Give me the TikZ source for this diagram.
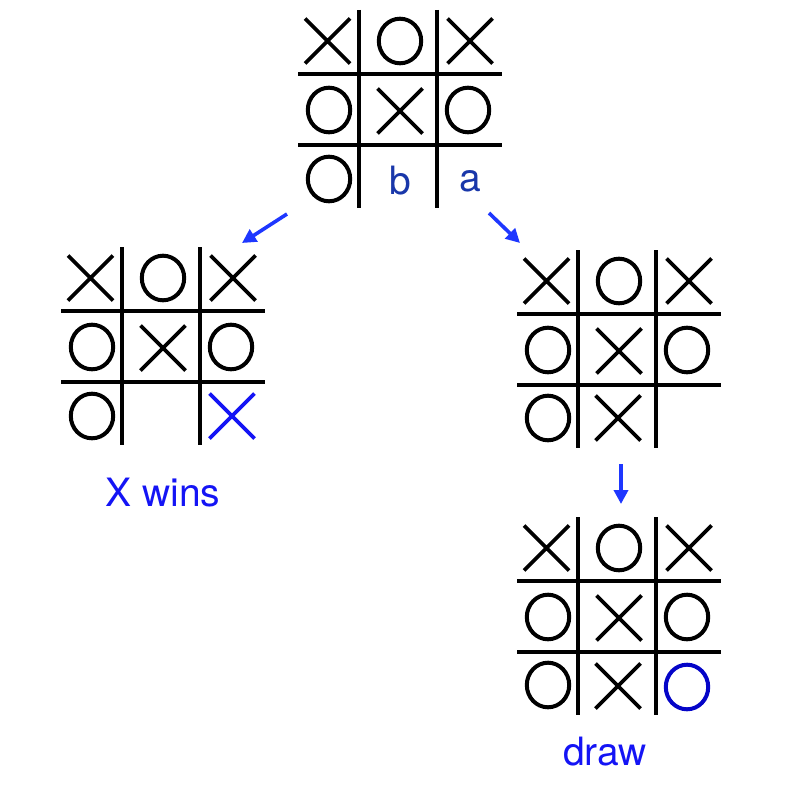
\documentclass[tikz,border=0pt]{standalone}
\usepackage{fontspec}
\setmainfont{TeX Gyre Heros}
\usetikzlibrary{arrows.meta}
\definecolor{labelblue}{RGB}{25,55,170}
\definecolor{brightblue}{RGB}{20,20,245}
\definecolor{arrowblue}{RGB}{30,55,255}
\definecolor{oblue}{RGB}{5,5,200}
\tikzset{
  gridline/.style={line width=4pt, black},
  mark line/.style={line width=3.8pt, line cap=butt},
  xmark/.pic={\draw[mark line] (-22.5,-22.5) -- (22.5,22.5) (-22.5,22.5) -- (22.5,-22.5);},
  omark/.pic={\draw[mark line, line width=4pt] (0,0) ellipse [x radius=21.2, y radius=22.3];},
  boardgrid/.pic={
    \draw[gridline] (60.5,0) -- (60.5,198) (139,0) -- (139,198);
    \draw[gridline] (0,63.5) -- (204,63.5) (0,134.5) -- (204,134.5);
  },
  movearrow/.style={line width=3.6pt, arrowblue, -{Triangle[length=14pt,width=14pt]}},
  lbl/.style={font=\fontsize{39}{41}\selectfont, inner sep=0pt},
}
\begin{document}
\begin{tikzpicture}[x=1pt, y=-1pt]
\useasboundingbox (0,0) rectangle (800,800);
\fill[white] (0,0) rectangle (800,800);

% ---------- top board ----------
\begin{scope}[shift={(298,10)}]
  \pic {boardgrid};
  \pic at (29.5,31) {xmark};
  \pic at (102,31) {omark};
  \pic at (172,31) {xmark};
  \pic at (31,100) {omark};
  \pic at (102,101) {xmark};
  \pic at (170,100) {omark};
  \pic at (31,169) {omark};
  \node[lbl, text=labelblue] (b) at (102,171) {b};
  \node[lbl, text=labelblue] (a) at (172,171) {a};
  \coordinate (topL) at (-11,204);
  \coordinate (topR) at (191,203);
\end{scope}

% ---------- left board ----------
\begin{scope}[shift={(61,247)}]
  \pic {boardgrid};
  \pic at (29.5,31) {xmark};
  \pic at (102,31) {omark};
  \pic at (172,31) {xmark};
  \pic at (31,100) {omark};
  \pic at (102,101) {xmark};
  \pic at (170,100) {omark};
  \pic at (31,169) {omark};
  \begin{scope}[color=brightblue]
    \pic at (171,169) {xmark};
  \end{scope}
  \coordinate (leftT) at (181,-4);
\end{scope}
\node[lbl, text=brightblue] (xwins) at (163,493) {X wins};

% ---------- right board 1 ----------
\begin{scope}[shift={(517,250)}]
  \pic {boardgrid};
  \pic at (29.5,31) {xmark};
  \pic at (102,31) {omark};
  \pic at (172,31) {xmark};
  \pic at (31,100) {omark};
  \pic at (102,101) {xmark};
  \pic at (170,100) {omark};
  \pic at (31,168) {omark};
  \pic at (101,168) {xmark};
  \coordinate (r1T) at (3,-7);
  \coordinate (r1B) at (104,214);
\end{scope}

% ---------- right board 2 ----------
\begin{scope}[shift={(517,517)}]
  \pic {boardgrid};
  \pic at (29.5,31) {xmark};
  \pic at (102,31) {omark};
  \pic at (172,31) {xmark};
  \pic at (31,100) {omark};
  \pic at (102,101) {xmark};
  \pic at (170,100) {omark};
  \pic at (31,168) {omark};
  \pic at (101,169) {xmark};
  \begin{scope}[color=oblue]
    \pic at (170,170) {omark};
  \end{scope}
  \coordinate (r2T) at (104,-13);
\end{scope}
\node[lbl, text=brightblue] (drawlbl) at (605,752) {draw};

% ---------- arrows ----------
\draw[movearrow] (topL) -- (leftT);
\draw[movearrow] (topR) -- (r1T);
\draw[movearrow] (r1B) -- (r2T);
\end{tikzpicture}
\end{document}
